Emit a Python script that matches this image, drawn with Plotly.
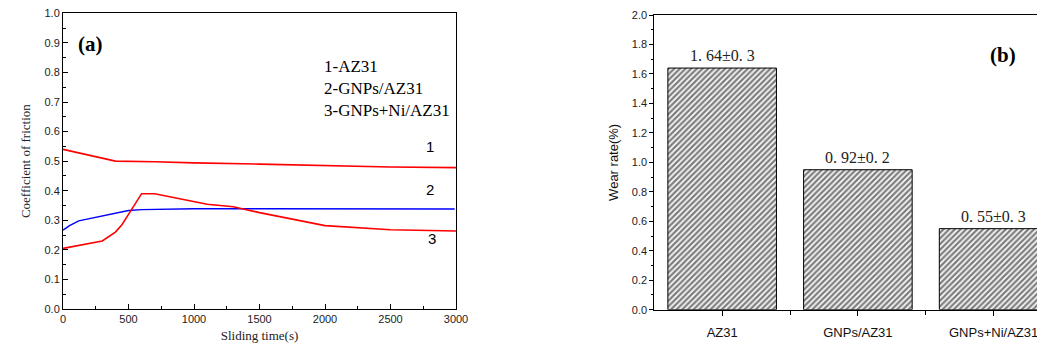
import plotly.graph_objects as go

# ---- Data: panel (a) coefficient of friction vs sliding time ----
t1 = [0, 400, 700, 1000, 1500, 2000, 2500, 3000]
cof1 = [0.540, 0.500, 0.498, 0.494, 0.490, 0.485, 0.480, 0.478]

t2 = [0, 50, 120, 300, 500, 600, 1000, 1500, 2000, 2990]
cof2 = [0.267, 0.282, 0.298, 0.315, 0.333, 0.336, 0.339, 0.339, 0.338, 0.338]

t3 = [0, 100, 300, 400, 450, 500, 600, 700, 1000, 1100, 1300, 1500, 2000, 2500, 3000]
cof3 = [0.205, 0.214, 0.230, 0.260, 0.285, 0.320, 0.390, 0.390, 0.363, 0.354, 0.346, 0.326, 0.282, 0.268, 0.264]

legend_lines = ["1-AZ31", "2-GNPs/AZ31", "3-GNPs+Ni/AZ31"]
curve_labels = ["1", "2", "3"]
curve_label_pos = [(2800, 0.55), (2800, 0.405), (2815, 0.24)]

# ---- Data: panel (b) wear rate ----
materials = ["AZ31", "GNPs/AZ31", "GNPs+Ni/AZ31"]
wear = [1.64, 0.95, 0.55]
wear_labels = ["1. 64±0. 3", "0. 92±0. 2", "0. 55±0. 3"]

W, H = 1045, 351
OFF = 8  # page body offset of the figure in the screenshot
ML, MR, MT, MB = 55, 0, 5, 49
PW, PH = W - ML - MR, H - MT - MB
serif = "Liberation Serif"
sans = "Liberation Sans"


def dx(px):
    return (px - OFF - ML) / PW


def dy(py):
    return (H - MB - (py - OFF)) / PH


fig = go.Figure()

fig.add_trace(go.Scatter(x=t1, y=cof1, mode="lines", line=dict(color="#ff0000", width=1.6),
                         xaxis="x", yaxis="y", showlegend=False))
fig.add_trace(go.Scatter(x=t2, y=cof2, mode="lines", line=dict(color="#0000ff", width=1.4),
                         xaxis="x", yaxis="y", showlegend=False))
fig.add_trace(go.Scatter(x=t3, y=cof3, mode="lines", line=dict(color="#ff0000", width=1.6),
                         xaxis="x", yaxis="y", showlegend=False))

fig.add_trace(go.Bar(x=list(range(len(materials))), y=wear, width=0.8,
                     marker=dict(color="white", line=dict(color="black", width=1),
                                 pattern=dict(shape="/", size=4, solidity=0.6,
                                              fgcolor="#000000", bgcolor="white")),
                     xaxis="x2", yaxis="y2", showlegend=False))

annotations = []
annotations.append(dict(x=dx(76), y=dy(44), xref="paper", yref="paper", text="<b>(a)</b>",
                        showarrow=False, xanchor="left", yanchor="middle",
                        font=dict(family=serif, size=21, color="black")))
for i, txt in enumerate(legend_lines):
    annotations.append(dict(x=dx(322), y=dy(67 + i * 21.8), xref="paper", yref="paper", text=txt,
                            showarrow=False, xanchor="left", yanchor="middle",
                            font=dict(family=serif, size=17, color="black")))
for lab, (xx, yy) in zip(curve_labels, curve_label_pos):
    annotations.append(dict(x=xx, y=yy, xref="x", yref="y", text=lab, showarrow=False,
                            font=dict(family=sans, size=15, color="black")))
for i, (v, lab) in enumerate(zip(wear, wear_labels)):
    annotations.append(dict(x=i, y=v, xref="x2", yref="y2", text=lab, showarrow=False,
                            yanchor="bottom", yshift=2,
                            font=dict(family=serif, size=16, color="#222222")))
annotations.append(dict(x=dx(1003), y=dy(55), xref="paper", yref="paper", text="<b>(b)</b>",
                        showarrow=False, xanchor="center", yanchor="middle",
                        font=dict(family=serif, size=21, color="black")))

fig.update_layout(
    width=W, height=H,
    margin=dict(l=ML, r=MR, t=MT, b=MB, autoexpand=False),
    paper_bgcolor="white", plot_bgcolor="white",
    annotations=annotations,
    xaxis=dict(domain=[dx(63), dx(456)], anchor="y", range=[0, 3000], automargin=False,
               tickvals=[0, 500, 1000, 1500, 2000, 2500, 3000],
               ticks="inside", ticklen=5, tickcolor="black", tickwidth=1,
               minor=dict(dtick=250, ticks="inside", ticklen=3, tickcolor="black"),
               showline=True, linecolor="black", linewidth=1, mirror=True,
               showgrid=False, zeroline=False, ticklabeloverflow="allow",
               tickfont=dict(family=sans, size=11, color="#222222"),
               title=dict(text="Sliding time(s)", font=dict(family=serif, size=13, color="#222222"),
                          standoff=6)),
    yaxis=dict(domain=[dy(309), dy(13.3)], anchor="x", range=[0, 1.0], automargin=False,
               dtick=0.1, tickformat=".1f",
               ticks="inside", ticklen=5, tickcolor="black", tickwidth=1,
               minor=dict(dtick=0.05, ticks="inside", ticklen=3, tickcolor="black"),
               showline=True, linecolor="black", linewidth=1, mirror=True,
               showgrid=False, zeroline=False, ticklabeloverflow="allow",
               tickfont=dict(family=sans, size=11, color="#222222"),
               title=dict(text="Coefficient of friction", font=dict(family=serif, size=13, color="#222222"),
                          standoff=10)),
    xaxis2=dict(domain=[dx(654.3), 1.0], anchor="y2",
                range=[-0.5, -0.5 + (W - OFF - (654.3 - OFF)) / 133.0],
                automargin=False,
                tickvals=list(range(len(materials))), ticktext=materials,
                ticks="outside", ticklen=5, tickcolor="black", tickwidth=1,
                ticklabelstandoff=6, ticklabeloverflow="allow",
                minor=dict(tickvals=[0.5, 1.5], ticks="outside", ticklen=4, tickcolor="black"),
                showline=True, linecolor="black", linewidth=1, mirror=True,
                showgrid=False, zeroline=False,
                tickfont=dict(family=sans, size=13, color="#111111")),
    yaxis2=dict(domain=[dy(309.7), dy(15)], anchor="x2", range=[0, 2.0], automargin=False,
                dtick=0.2, tickformat=".1f",
                ticks="outside", ticklen=4, tickcolor="black", tickwidth=1,
                minor=dict(dtick=0.1, ticks="outside", ticklen=2, tickcolor="black"),
                showline=True, linecolor="black", linewidth=1,
                showgrid=False, zeroline=False, ticklabeloverflow="allow",
                tickfont=dict(family=sans, size=11, color="#222222"),
                title=dict(text="Wear rate(%)", font=dict(family=sans, size=13, color="#111111"),
                           standoff=10)),
)

fig.write_html("out.html")
